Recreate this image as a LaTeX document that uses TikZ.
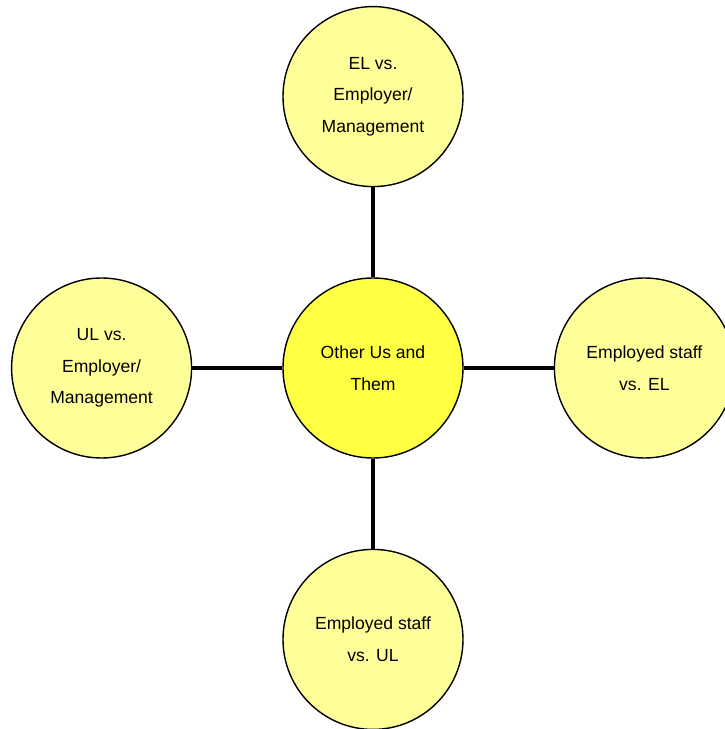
\documentclass[tikz,border=0pt]{standalone}
\usepackage{fontspec}
\setmainfont{Liberation Sans}
\usetikzlibrary{positioning}
\definecolor{paleyellow}{RGB}{255,255,153}
\definecolor{brightyellow}{RGB}{255,255,68}
\tikzstyle{link} = [line width=2.8pt]
\tikzstyle{bubble}=[circle, draw, line width=0.8pt, fill=paleyellow, minimum size=3.6cm, align=center, font=\fontsize{10}{18}\selectfont]

\begin{document}
\begin{tikzpicture}
    \useasboundingbox (-7.46,-7.22) rectangle (7.04,7.36);
    \node (c) [bubble, fill=brightyellow]                {Other Us and\\Them};
    \node (t) [bubble, node distance=1.8cm, above=of c] {EL vs.\\Employer/\\Management};
    \node (l) [bubble, node distance=1.8cm, left=of c]  {UL vs.\\Employer/\\Management};
    \node (r) [bubble, node distance=1.8cm, right=of c] {Employed staff\\vs. EL};
    \node (b) [bubble, node distance=1.8cm, below=of c] {Employed staff\\vs. UL};
    \draw [link] (c) -- (t);
    \draw [link] (c) -- (l);
    \draw [link] (c) -- (r);
    \draw [link] (c) -- (b);
\end{tikzpicture}
\end{document}
